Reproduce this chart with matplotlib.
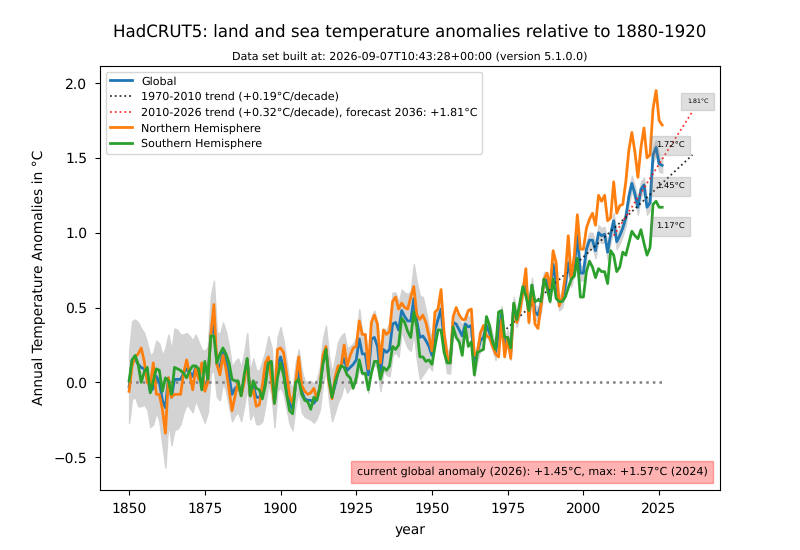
import numpy as np
import matplotlib
matplotlib.use("Agg")
import matplotlib.pyplot as plt

plt.rcParams['text.hinting'] = 'no_hinting'
plt.rcParams['xtick.major.pad'] = 5.5
plt.rcParams['ytick.major.pad'] = 5.5

years = np.arange(1850, 2027)

glob = [
    -0.03, 0.15, 0.16, 0.12, 0.10, 0.09, 0.04, -0.06, -0.04, 0.04,
    0.00, -0.12, -0.17, 0.03, -0.10, 0.02, 0.02, 0.02, 0.06, 0.09,
    0.07, 0.04, 0.10, 0.05, 0.00, -0.03, 0.02, 0.32, 0.38, 0.12,
    0.10, 0.20, 0.14, 0.04, -0.08, -0.04, -0.02, -0.08, 0.02, 0.15,
    -0.09, -0.02, -0.10, -0.10, -0.06, 0.03, 0.15, 0.08, -0.14, 0.12,
    0.17, 0.10, -0.02, -0.14, -0.18, -0.01, 0.08, -0.06, -0.11, -0.12,
    -0.12, -0.14, -0.11, -0.04, 0.14, 0.23, 0.03, -0.10, -0.02, 0.07,
    0.11, 0.16, 0.08, 0.10, 0.12, 0.15, 0.29, 0.19, 0.19, 0.05,
    0.29, 0.30, 0.24, 0.06, 0.22, 0.20, 0.22, 0.39, 0.40, 0.35,
    0.48, 0.44, 0.41, 0.41, 0.56, 0.41, 0.30, 0.31, 0.28, 0.24,
    0.18, 0.35, 0.42, 0.49, 0.27, 0.14, 0.13, 0.40, 0.39, 0.35,
    0.31, 0.39, 0.37, 0.38, 0.10, 0.20, 0.28, 0.30, 0.38, 0.33,
    0.27, 0.20, 0.33, 0.46, 0.24, 0.30, 0.20, 0.52, 0.42, 0.50,
    0.62, 0.67, 0.44, 0.65, 0.47, 0.45, 0.52, 0.69, 0.68, 0.58,
    0.79, 0.67, 0.53, 0.55, 0.64, 0.80, 0.69, 0.78, 0.98, 0.73,
    0.73, 0.89, 0.95, 0.95, 0.88, 1.00, 0.98, 0.99, 0.87, 0.99,
    1.08, 0.94, 0.98, 1.03, 1.10, 1.24, 1.33, 1.26, 1.17, 1.29,
    1.32, 1.17, 1.20, 1.52, 1.57, 1.46, 1.45,
]
north = [
    -0.06, 0.11, 0.17, 0.19, 0.23, 0.14, 0.00, -0.02, 0.13, -0.08,
    -0.08, -0.18, -0.34, 0.03, -0.10, -0.08, -0.08, -0.08, 0.06, 0.15,
    0.06, -0.05, 0.09, 0.02, 0.13, -0.06, 0.00, 0.32, 0.52, 0.12,
    0.05, 0.18, 0.09, -0.05, -0.19, -0.09, 0.00, -0.09, 0.00, 0.15,
    -0.09, -0.05, -0.16, -0.15, -0.02, 0.13, 0.17, 0.01, -0.14, 0.22,
    0.23, 0.20, 0.06, -0.09, -0.14, 0.00, 0.17, -0.02, -0.06, -0.08,
    -0.07, -0.04, -0.11, -0.04, 0.18, 0.24, 0.00, -0.11, 0.03, 0.11,
    0.11, 0.25, 0.11, 0.18, 0.23, 0.24, 0.41, 0.32, 0.32, 0.09,
    0.40, 0.45, 0.39, 0.13, 0.35, 0.32, 0.34, 0.54, 0.57, 0.49,
    0.53, 0.50, 0.49, 0.57, 0.64, 0.45, 0.42, 0.45, 0.40, 0.31,
    0.21, 0.47, 0.49, 0.62, 0.33, 0.18, 0.13, 0.44, 0.50, 0.45,
    0.42, 0.42, 0.48, 0.49, 0.18, 0.20, 0.33, 0.38, 0.31, 0.30,
    0.24, 0.19, 0.17, 0.42, 0.17, 0.30, 0.16, 0.52, 0.40, 0.47,
    0.60, 0.76, 0.40, 0.64, 0.39, 0.36, 0.51, 0.69, 0.73, 0.63,
    0.88, 0.80, 0.51, 0.57, 0.71, 0.98, 0.69, 0.85, 1.12, 0.89,
    0.89, 1.03, 1.09, 1.13, 1.05, 1.25, 1.21, 1.25, 1.08, 1.10,
    1.34, 1.13, 1.18, 1.19, 1.34, 1.55, 1.67, 1.54, 1.37, 1.57,
    1.70, 1.50, 1.52, 1.83, 1.95, 1.75, 1.72,
]
south = [
    0.01, 0.15, 0.18, 0.12, 0.00, 0.07, 0.10, -0.07, 0.01, 0.09,
    0.08, -0.06, 0.03, 0.01, -0.08, 0.10, 0.09, 0.08, 0.06, 0.03,
    0.08, 0.11, 0.11, 0.09, -0.05, 0.14, 0.02, 0.31, 0.31, 0.13,
    0.19, 0.23, 0.19, 0.13, 0.02, 0.01, 0.01, -0.09, 0.05, 0.16,
    -0.09, 0.01, -0.04, -0.05, -0.11, -0.02, 0.13, 0.14, -0.14, 0.03,
    0.13, 0.05, -0.08, -0.19, -0.21, 0.00, 0.02, -0.08, -0.12, -0.13,
    -0.18, -0.10, -0.12, -0.03, 0.12, 0.22, 0.02, -0.10, 0.00, 0.06,
    0.11, 0.10, 0.05, 0.03, -0.04, 0.03, 0.15, 0.06, 0.06, -0.05,
    0.06, 0.14, 0.14, 0.02, 0.10, 0.08, 0.11, 0.24, 0.22, 0.25,
    0.43, 0.40, 0.34, 0.30, 0.47, 0.37, 0.17, 0.17, 0.14, 0.15,
    0.12, 0.24, 0.35, 0.35, 0.20, 0.13, 0.13, 0.37, 0.30, 0.27,
    0.18, 0.37, 0.24, 0.27, 0.05, 0.20, 0.21, 0.22, 0.44, 0.38,
    0.27, 0.22, 0.47, 0.48, 0.30, 0.30, 0.23, 0.53, 0.42, 0.53,
    0.64, 0.58, 0.48, 0.65, 0.54, 0.55, 0.54, 0.69, 0.63, 0.54,
    0.69, 0.56, 0.54, 0.54, 0.57, 0.63, 0.69, 0.71, 0.83, 0.57,
    0.57, 0.74, 0.81, 0.77, 0.70, 0.76, 0.74, 0.74, 0.66, 0.88,
    0.85, 0.74, 0.77, 0.87, 0.85, 0.93, 1.01, 0.98, 0.96, 1.02,
    0.93, 0.85, 0.90, 1.19, 1.21, 1.17, 1.17,
]
# half width of the grey uncertainty band around the global series
spread = [
    0.24, 0.26, 0.26, 0.28, 0.26, 0.24, 0.22, 0.24, 0.24, 0.24,
    0.26, 0.30, 0.40, 0.29, 0.32, 0.34, 0.33, 0.30, 0.26, 0.24,
    0.24, 0.24, 0.22, 0.22, 0.22, 0.24, 0.22, 0.26, 0.30, 0.22,
    0.22, 0.20, 0.20, 0.20, 0.18, 0.18, 0.18, 0.18, 0.18, 0.18,
    0.16, 0.18, 0.18, 0.18, 0.20, 0.18, 0.16, 0.16, 0.16, 0.18,
    0.20, 0.18, 0.16, 0.14, 0.14, 0.14, 0.14, 0.14, 0.12, 0.12,
    0.13, 0.13, 0.13, 0.14, 0.15, 0.15, 0.15, 0.16, 0.18, 0.20,
    0.20, 0.17, 0.15, 0.14, 0.14, 0.15, 0.20, 0.14, 0.13, 0.12,
    0.15, 0.18, 0.15, 0.12, 0.14, 0.15, 0.18, 0.21, 0.20, 0.18,
    0.14, 0.16, 0.18, 0.20, 0.23, 0.26, 0.28, 0.26, 0.20, 0.13,
    0.10, 0.09, 0.08, 0.08, 0.08, 0.08, 0.07, 0.07, 0.07, 0.07,
    0.07, 0.07, 0.07, 0.06, 0.06, 0.06, 0.06, 0.06, 0.06, 0.06,
    0.05, 0.05, 0.05, 0.05, 0.05, 0.05, 0.05, 0.05, 0.05, 0.05,
    0.05, 0.05, 0.05, 0.05, 0.05, 0.05, 0.05, 0.05, 0.05, 0.05,
    0.05, 0.05, 0.05, 0.05, 0.05, 0.05, 0.05, 0.05, 0.05, 0.05,
    0.05, 0.05, 0.05, 0.05, 0.05, 0.05, 0.05, 0.05, 0.05, 0.05,
    0.05, 0.05, 0.05, 0.05, 0.05, 0.05, 0.05, 0.05, 0.05, 0.05,
    0.05, 0.05, 0.05, 0.05, 0.05, 0.05, 0.05,
]

trend_old_years = [1970, 2036]
trend_old = [0.27, 1.52]
trend_new_years = [2010, 2036]
trend_new = [0.98, 1.81]

glob = np.array(glob)
spread = np.array(spread)

fig, ax = plt.subplots(figsize=(8, 5.5), dpi=100)

ax.fill_between(years, glob - spread, glob + spread, color="lightgray")
ax.plot(years, np.zeros(len(years)), ":", color="gray", lw=1.8)

ax.plot(years, glob, lw=2, color="C0", label="Global")
ax.plot(trend_old_years, trend_old, ":", color="black", lw=1.3, alpha=0.8,
        label="1970-2010 trend (+0.19°C/decade)")
ax.plot(trend_new_years, trend_new, ":", color="red", lw=1.3, alpha=0.8,
        label="2010-2026 trend (+0.32°C/decade), forecast 2036: +1.81°C")
ax.plot(years, north, lw=2, color="C1", label="Northern Hemisphere")
ax.plot(years, south, lw=2, color="C2", label="Southern Hemisphere")

# value boxes at the right
box = dict(facecolor="gray", edgecolor="gray", alpha=0.25)
ax.text(2024, 1.58, "1.72°C", fontsize=6, va="center", bbox=box)
ax.text(2024, 1.31, "1.45°C", fontsize=6, va="center", bbox=box)
ax.text(2024, 1.04, "1.17°C", fontsize=6, va="center", bbox=box)
ax.text(2034.2, 1.875, "1.81°C", fontsize=4.5, va="center", bbox=box)

ax.text(1925.2, -0.60, "current global anomaly (2026): +1.45°C, max: +1.57°C (2024)",
        fontsize=8, va="center",
        bbox=dict(facecolor="red", edgecolor="red", alpha=0.3))

ax.set_xlim(1840.4, 2045.1)
ax.set_ylim(-0.716, 2.114)
ax.set_xlabel("year", labelpad=5.5)
ax.set_ylabel("Annual Temperature Anomalies in °C", labelpad=5.5)
ax.legend(loc="upper left", fontsize=8, labelspacing=0.45)
ax.set_title("Data set built at: 2026-09-07T10:43:28+00:00 (version 5.1.0.0)", fontsize=8, pad=4.5)
fig.suptitle("HadCRUT5: land and sea temperature anomalies relative to 1880-1920",
             x=0.5125, y=0.956, fontsize=12)

fig.savefig("out.png", dpi=100)
